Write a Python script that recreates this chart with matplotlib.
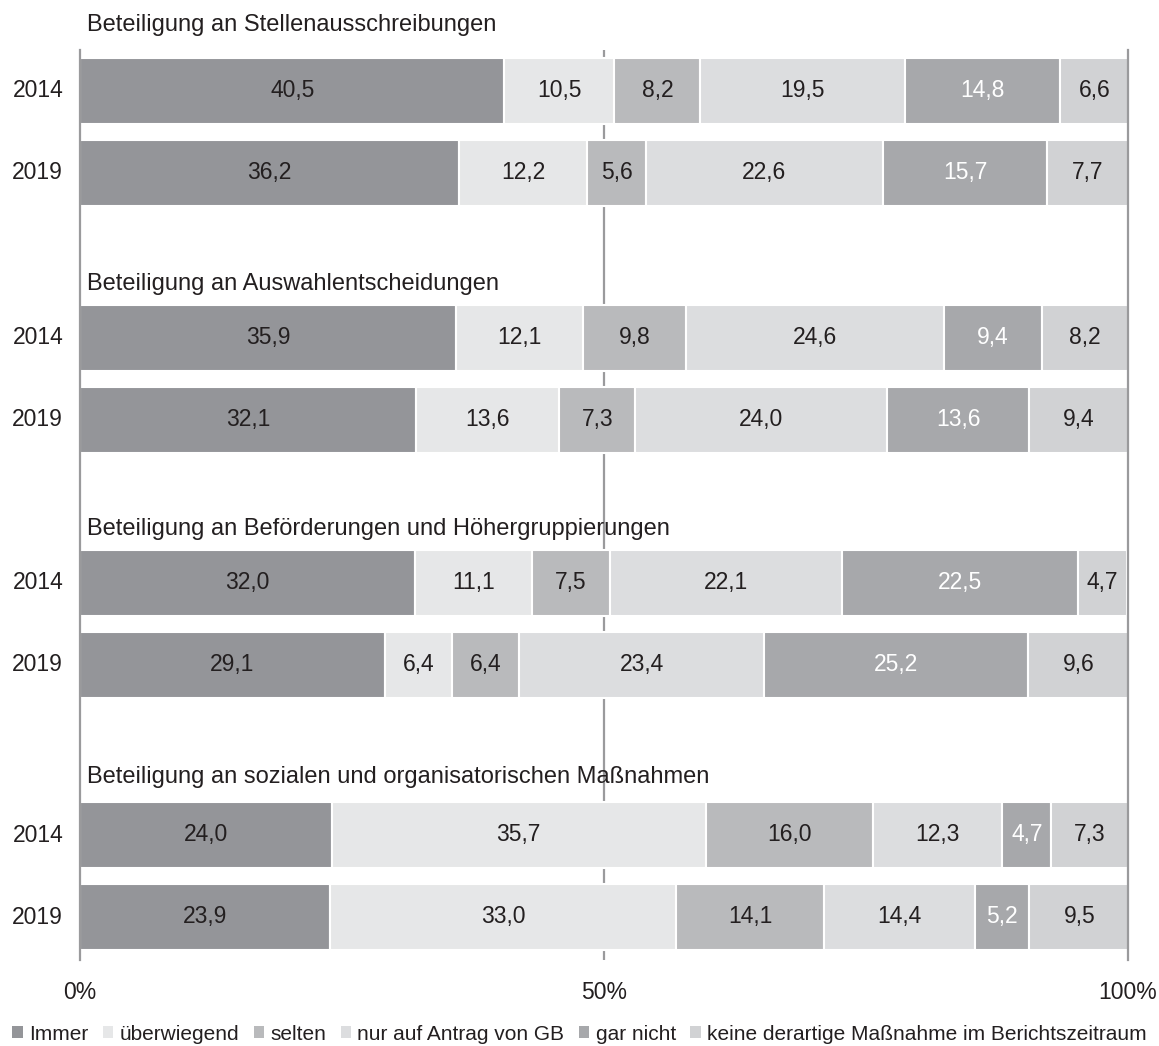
import matplotlib.pyplot as plt
from matplotlib.patches import Patch

plt.rcParams["font.family"] = ["Liberation Sans", "DejaVu Sans"]

# Daten
groups = [
    "Beteiligung an Stellenausschreibungen",
    "Beteiligung an Auswahlentscheidungen",
    "Beteiligung an Beförderungen und Höhergruppierungen",
    "Beteiligung an sozialen und organisatorischen Maßnahmen",
]
years = ["2014", "2019"]
categories = ["Immer", "überwiegend", "selten", "nur auf Antrag von GB",
              "gar nicht", "keine derartige Maßnahme im Berichtszeitraum"]

immer = [40.5, 36.2, 35.9, 32.1, 32.0, 29.1, 24.0, 23.9]
ueberwiegend = [10.5, 12.2, 12.1, 13.6, 11.1, 6.4, 35.7, 33.0]
selten = [8.2, 5.6, 9.8, 7.3, 7.5, 6.4, 16.0, 14.1]
antrag = [19.5, 22.6, 24.6, 24.0, 22.1, 23.4, 12.3, 14.4]
gar_nicht = [14.8, 15.7, 9.4, 13.6, 22.5, 25.2, 4.7, 5.2]
keine = [6.6, 7.7, 8.2, 9.4, 4.7, 9.6, 7.3, 9.5]

series = [immer, ueberwiegend, selten, antrag, gar_nicht, keine]
colors = ["#949599", "#e6e7e8", "#b9babc", "#dcdddf", "#a7a8ab", "#d1d2d4"]
label_colors = ["#231f20", "#231f20", "#231f20", "#231f20", "white", "#231f20"]

# Layout (Pixelkoordinaten der Zeilen)
bar_y = [91, 173, 338, 420, 583, 665, 835, 917]
title_y = [25, 284, 529, 777]

fig = plt.figure(figsize=(11.59, 10.46), dpi=100)
ax = fig.add_axes([80 / 1159, 1 - 960 / 1046, 1048 / 1159, 910 / 1046])

ax.axvline(50, color="#9a9a9c", linewidth=1.6, zorder=0)

left = [0.0] * len(bar_y)
for vals, c, lc in zip(series, colors, label_colors):
    ax.barh(bar_y, vals, left=left, height=66, color=c,
            edgecolor="white", linewidth=1.5, zorder=2)
    for y, l, v in zip(bar_y, left, vals):
        ax.text(l + v / 2, y, f"{v:.1f}".replace(".", ","), ha="center",
                va="center", fontsize=16.5, color=lc, zorder=3)
    left = [l + v for l, v in zip(left, vals)]

ax.set_xlim(0, 100)
ax.set_ylim(960, 50)

for y, yr in zip(bar_y, years * 4):
    ax.text(-1.6, y, yr, ha="right", va="center", fontsize=16.5,
            color="#231f20", clip_on=False)
for y, t in zip(title_y, groups):
    ax.text(0.7, y, t, ha="left", va="center", fontsize=17,
            color="#231f20", clip_on=False)

ax.set_yticks([])
ax.set_xticks([0, 50, 100])
ax.set_xticklabels(["0%", "50%", "100%"], fontsize=16.5, color="#231f20")
ax.tick_params(axis="x", length=0, pad=15)
for s in ["top", "bottom"]:
    ax.spines[s].set_visible(False)
for s in ["left", "right"]:
    ax.spines[s].set_color("#9a9a9c")
    ax.spines[s].set_linewidth(1.6)
    ax.spines[s].set_zorder(4)

handles = [Patch(facecolor=c, edgecolor="none") for c in colors]
fig.legend(handles, categories, loc="center", bbox_to_anchor=(0.5, 1 - 1034 / 1046),
           ncol=6, frameon=False, fontsize=15, handlelength=0.5, handleheight=0.5,
           handletextpad=0.3, columnspacing=0.7, labelcolor="#231f20",
           borderpad=0, borderaxespad=0)

fig.savefig("out.png", dpi=100, facecolor="white")
plt.close()
